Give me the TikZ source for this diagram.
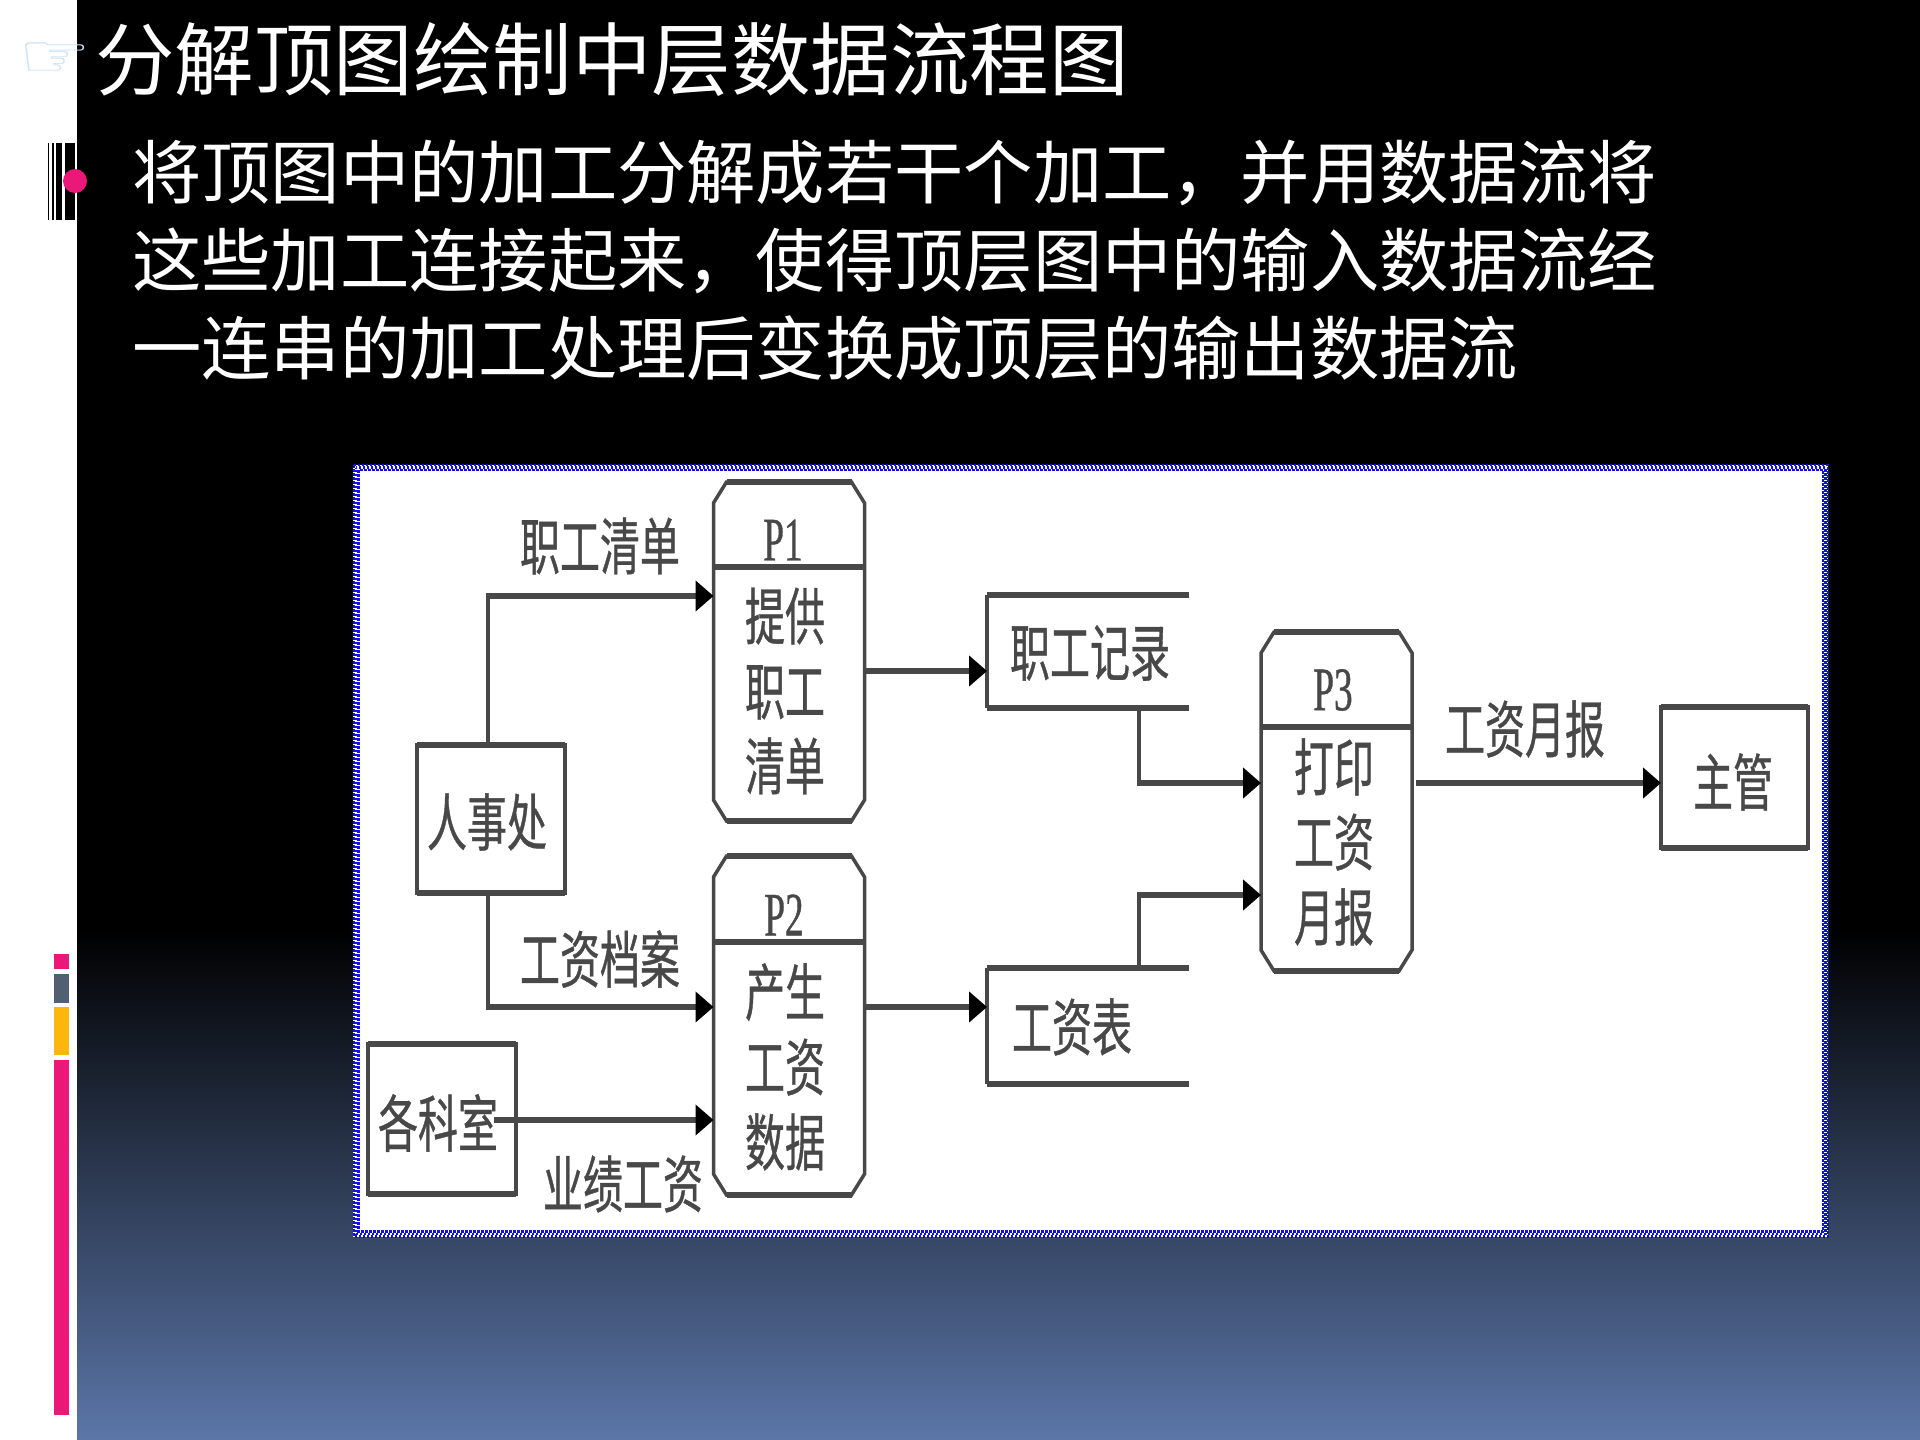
\documentclass[tikz,border=0pt]{standalone}
\usepackage{fontspec}
\setmainfont{Noto Sans CJK SC}
\newfontfamily\figcjk[FakeStretch=0.645,FakeBold=0.6]{Noto Sans CJK SC}
\newfontfamily\figlatin[FakeStretch=0.6,FakeBold=0.6]{Liberation Serif}
\newfontfamily\handfont{DejaVu Sans}
\usetikzlibrary{arrows.meta}
\definecolor{slidepink}{HTML}{EC1879}
\definecolor{slidegray}{HTML}{515F72}
\definecolor{slideamber}{HTML}{FFB60A}
\definecolor{slideblue}{HTML}{5B76A8}
\definecolor{handblue}{HTML}{CFE4F9}
\definecolor{dither}{HTML}{1010E8}
\definecolor{figink}{HTML}{484848}
\tikzset{
	>={Triangle[length=18pt,width=30pt,color=black]},
	hline/.style={draw=figink, line width=5.5pt},
	vline/.style={draw=figink, line width=3.5pt},
	flow/.style={hline, ->},
	figtext/.style={text=figink, align=center, inner sep=0pt,
		font=\figcjk\fontsize{62}{75}\selectfont},
	proclabel/.style={text=figink, inner sep=0pt,
		font=\figlatin\fontsize{62}{62}\selectfont},
	extbox/.style={rectangle, vline, inner sep=0pt, outer sep=0pt},
	storebox/.style={rectangle, inner sep=0pt, outer sep=0pt,
		minimum width=202pt},
	procbox/.style={rectangle, inner sep=0pt, outer sep=0pt,
		minimum width=151pt, minimum height=339pt},
}

\begin{document}
\begin{tikzpicture}[x=1pt, y=-1pt]
	\useasboundingbox (0,0) rectangle (1920,1440);
	% slide background
	\fill[white] (0,0) rectangle (1920,1440);
	\fill[black] (77,0) rectangle (1920,931);
	\fill[top color=black, bottom color=slideblue] (77,930) rectangle (1920,1440);
	\foreach \xa/\xb in {47.5/48.5,52/54,56/62,65/75}
		\fill[black] (\xa,143) rectangle (\xb,220);
	\fill[slidepink] (75,181) circle (12pt);
	\fill[slidepink] (54,954) rectangle (69,969);
	\fill[slidegray] (54,974) rectangle (69,1003);
	\fill[slideamber] (54,1007) rectangle (69,1055);
	\fill[slidepink] (54,1060) rectangle (69,1415);
	\node[text=handblue, inner sep=0pt, xscale=1.2, yscale=0.9, font=\handfont\fontsize{68}{68}\selectfont] (hand) at (55,60) {☞};
	\node[anchor=west, text=white, inner sep=0pt, font=\fontsize{79.5}{80}\selectfont] (title) at (95,60) {分解顶图绘制中层数据流程图};
	\node[anchor=west, text=white, inner sep=0pt, align=left, font=\fontsize{69.3}{88}\selectfont] (body) at (132,260)
		{将顶图中的加工分解成若干个加工，并用数据流将\\
		这些加工连接起来，使得顶层图中的输入数据流经\\
		一连串的加工处理后变换成顶层的输出数据流};
	% picture panel with its dithered frame
	\fill[white] (353,465) rectangle (1828,1237);
	\foreach \k/\ph in {1.2/0,3.6/2,6/0}
		\draw[dither, line width=2.4pt, dash pattern=on 2.5pt off 1.5pt, dash phase=\ph pt]
			(352.5+\k,464+\k) rectangle (1829-\k,1237.5-\k);
	% external entities
	\node[extbox, minimum width=148pt, minimum height=148pt] (renshi) at (491,819) {};
	\node[extbox, minimum width=148pt, minimum height=150pt] (keshi) at (442,1119) {};
	\node[extbox, minimum width=147pt, minimum height=141pt] (zhuguan) at (1734.5,777.5) {};
	\foreach \b in {renshi,keshi,zhuguan} {
		\draw[hline] (\b.north west) -- (\b.north east);
		\draw[hline] (\b.south west) -- (\b.south east);
	}
	\node[figtext] at (487,822) {人事处};
	\node[figtext] at (438,1123) {各科室};
	\node[figtext] at (1733,782) {主管};
	% processes
	\node[procbox] (p1) at (789,651.5) {};
	\node[procbox] (p2) at (789,1025.5) {};
	\node[procbox] (p3) at (1336.5,801.5) {};
	\foreach \b/\d in {p1/567,p2/942,p3/727} {
		\draw[vline] ([xshift=-62.5pt]\b.north) -- ([xshift=62.5pt]\b.north)
			-- ([yshift=-21pt]\b.north east) -- ([yshift=21pt]\b.south east)
			-- ([xshift=62.5pt]\b.south) -- ([xshift=-62.5pt]\b.south)
			-- ([yshift=21pt]\b.south west) -- ([yshift=-21pt]\b.north west) -- cycle;
		\draw[hline] ([xshift=-62.5pt]\b.north) -- ([xshift=62.5pt]\b.north);
		\draw[hline] ([xshift=-62.5pt]\b.south) -- ([xshift=62.5pt]\b.south);
		\draw[hline] (\b.west |- 0,\d) -- (\b.east |- 0,\d);
	}
	\node[proclabel] (p1name) at (783,540) {P1};
	\node[proclabel] (p2name) at (784,915) {P2};
	\node[proclabel] (p3name) at (1333,690) {P3};
	\node[figtext] (p1text) at (785,691) {提供\\职工\\清单};
	\node[figtext] (p2text) at (785,1067) {产生\\工资\\数据};
	\node[figtext] (p3text) at (1334,842) {打印\\工资\\月报};
	% data stores
	\node[storebox, minimum height=113pt] (jilu) at (1088,651.5) {};
	\node[storebox, minimum height=116pt] (gongzibiao) at (1088,1026) {};
	\foreach \b in {jilu,gongzibiao} {
		\draw[hline] (\b.north west) -- (\b.north east);
		\draw[hline] (\b.south west) -- (\b.south east);
		\draw[vline] (\b.north west) -- (\b.south west);
	}
	\node[figtext] at (1090,653) {职工记录};
	\node[figtext] at (1072,1027) {工资表};
	% flows
	\coordinate (up) at (488,596);
	\coordinate (down) at (488,1007);
	\coordinate (kstart) at (494,1120);
	\coordinate (p1out) at (864,671);
	\coordinate (jdown) at (1139,783);
	\coordinate (gup) at (1139,895);
	\coordinate (p3out) at (1416,783);
	\draw[vline] (up |- renshi.north) -- (up);
	\draw[flow] ([xshift=-1.75pt]up) -- (up -| p1.west);
	\draw[vline] (down |- renshi.south) -- (down);
	\draw[flow] ([xshift=-1.75pt]down) -- (down -| p2.west);
	\draw[flow] (kstart) -- (kstart -| p2.west);
	\draw[flow] (p1out) -- (p1out -| jilu.west);
	\draw[flow] (down -| p2.east) -- (down -| gongzibiao.west);
	\draw[vline] (jdown |- jilu.south) -- (jdown);
	\draw[flow] ([xshift=-1.75pt]jdown) -- (jdown -| p3.west);
	\draw[vline] (gup |- gongzibiao.north) -- (gup);
	\draw[flow] ([xshift=-1.75pt]gup) -- (gup -| p3.west);
	\draw[flow] (p3out) -- (p3out -| zhuguan.west);
	% flow labels
	\node[figtext] at (600,546) {职工清单};
	\node[figtext] at (600,959) {工资档案};
	\node[figtext] at (623,1184) {业绩工资};
	\node[figtext] at (1525,729) {工资月报};
\end{tikzpicture}
\end{document}
